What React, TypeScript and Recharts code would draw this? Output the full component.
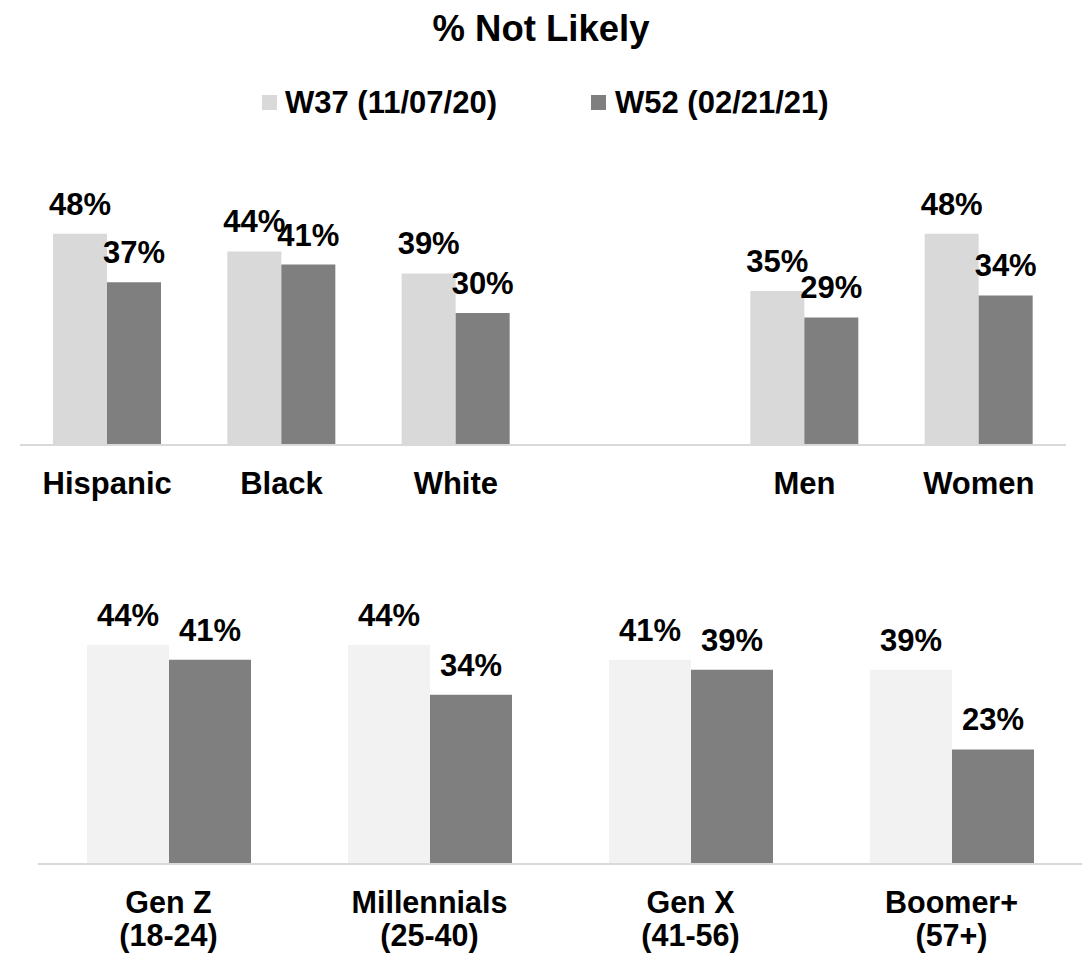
import React from 'react';
import { BarChart, Bar, XAxis, YAxis, LabelList, Legend } from 'recharts';

const topCategories = ['Hispanic', 'Black', 'White', '', 'Men', 'Women'];
const topW37 = [48, 44, 39, null, 35, 48];
const topW52 = [37, 41, 30, null, 29, 34];

const bottomLine1 = ['Gen Z', 'Millennials', 'Gen X', 'Boomer+'];
const bottomLine2 = ['(18-24)', '(25-40)', '(41-56)', '(57+)'];
const bottomW37 = [44, 44, 41, 39];
const bottomW52 = [41, 34, 39, 23];

const seriesNames = ['W37 (11/07/20)', 'W52 (02/21/21)'];
const titleText = '% Not Likely';

const FONT = '"Liberation Sans", Arial, Helvetica, sans-serif';
const LIGHT_TOP = '#d9d9d9';
const LIGHT_BOTTOM = '#f2f2f2';
const DARK = '#7f7f7f';
const AXIS = '#d9d9d9';

const topData = topCategories.map((name, i) => ({ name, w37: topW37[i], w52: topW52[i] }));
const bottomData = bottomLine1.map((name, i) => ({ name, line2: bottomLine2[i], w37: bottomW37[i], w52: bottomW52[i] }));

const fmt = (v: any) => (v === null || v === undefined ? '' : `${v}%`);

const TopTick = (props: any) => {
  const { x, y, payload } = props;
  return (
    <text x={x} y={y + 49} textAnchor="middle" fontSize={31} fontWeight={700} fill="#000" fontFamily={FONT}>
      {payload.value}
    </text>
  );
};

const BottomTick = (props: any) => {
  const { x, y, payload, index } = props;
  return (
    <g>
      <text x={x} y={y + 49} textAnchor="middle" fontSize={30.5} fontWeight={700} fill="#000" fontFamily={FONT}>
        {payload.value}
      </text>
      <text x={x} y={y + 82} textAnchor="middle" fontSize={30.5} fontWeight={700} fill="#000" fontFamily={FONT}>
        {bottomLine2[index]}
      </text>
    </g>
  );
};

const LegendContent = () => (
  <svg width={1082} height={40} style={{ display: 'block' }}>
    <rect x={262} y={9} width={15} height={15} fill={LIGHT_TOP} />
    <text x={285} y={27} fontSize={31} fontWeight={700} fill="#000" fontFamily={FONT}>{seriesNames[0]}</text>
    <rect x={591} y={9} width={15} height={15} fill={DARK} />
    <text x={615} y={27} fontSize={31} fontWeight={700} fill="#000" fontFamily={FONT}>{seriesNames[1]}</text>
  </svg>
);

const labelProps = { fontSize: 31, fontWeight: 700, fill: '#000', fontFamily: FONT };

export default function App() {
  return (
    <div style={{ position: 'absolute', left: 0, top: 0, width: 1082, height: 956, background: '#fff', fontFamily: FONT }}>
      <svg width={1082} height={60} style={{ position: 'absolute', left: 0, top: 0 }}>
        <text x={541} y={41} textAnchor="middle" fontSize={36.5} fontWeight={700} fill="#000" fontFamily={FONT}>{titleText}</text>
      </svg>
      <div style={{ position: 'absolute', left: 0, top: 0 }}>
        <BarChart
          width={1082}
          height={520}
          data={topData}
          margin={{ top: 225, right: 16, left: 20, bottom: 15 }}
          barGap={0}
          barSize={54}
        >
          <XAxis
            dataKey="name"
            height={60}
            tickLine={false}
            tickSize={0}
            tickMargin={0}
            axisLine={{ stroke: AXIS, strokeWidth: 2 }}
            tick={<TopTick />}
            interval={0}
          />
          <YAxis hide domain={[0, 50]} />
          <Legend
            verticalAlign="middle"
            align="center"
            layout="horizontal"
            wrapperStyle={{ position: 'absolute', top: 86, left: 0, width: 1082, height: 40 }}
            content={<LegendContent />}
          />
          <Bar dataKey="w37" name={seriesNames[0]} fill={LIGHT_TOP} isAnimationActive={false}>
            <LabelList dataKey="w37" position="top" offset={19} formatter={fmt} {...labelProps} />
          </Bar>
          <Bar dataKey="w52" name={seriesNames[1]} fill={DARK} isAnimationActive={false}>
            <LabelList dataKey="w52" position="top" offset={19} formatter={fmt} {...labelProps} />
          </Bar>
        </BarChart>
      </div>
      <div style={{ position: 'absolute', left: 0, top: 520 }}>
        <BarChart
          width={1082}
          height={436}
          data={bottomData}
          margin={{ top: 95, right: 0, left: 38, bottom: 12 }}
          barGap={0}
          barSize={82}
        >
          <XAxis
            dataKey="name"
            height={80}
            tickLine={false}
            tickSize={0}
            tickMargin={0}
            axisLine={{ stroke: AXIS, strokeWidth: 2 }}
            tick={<BottomTick />}
            interval={0}
          />
          <YAxis hide domain={[0, 50]} />
          <Bar dataKey="w37" name={seriesNames[0]} fill={LIGHT_BOTTOM} isAnimationActive={false}>
            <LabelList dataKey="w37" position="top" offset={19} formatter={fmt} {...labelProps} />
          </Bar>
          <Bar dataKey="w52" name={seriesNames[1]} fill={DARK} isAnimationActive={false}>
            <LabelList dataKey="w52" position="top" offset={19} formatter={fmt} {...labelProps} />
          </Bar>
        </BarChart>
      </div>
    </div>
  );
}
